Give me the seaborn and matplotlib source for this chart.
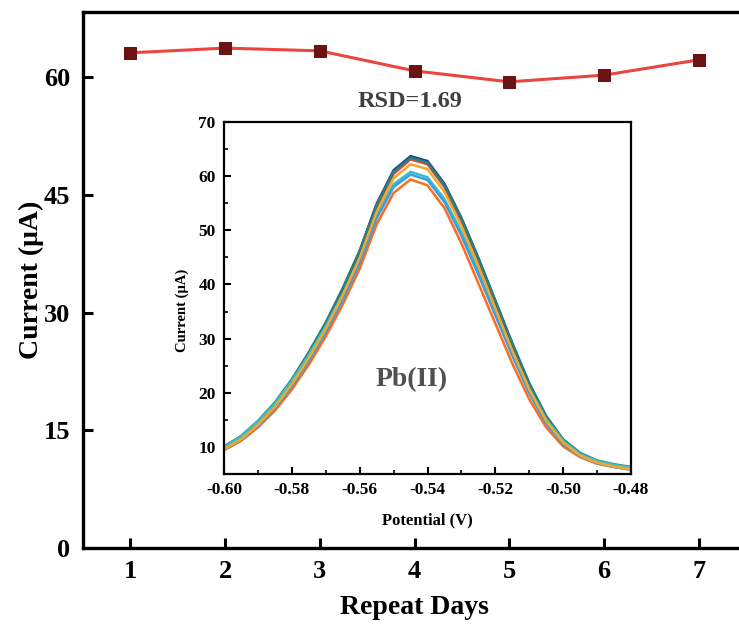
import numpy as np
import pandas as pd
import matplotlib
matplotlib.use("Agg")
import matplotlib.pyplot as plt
import seaborn as sns
from matplotlib.ticker import MultipleLocator

sns.set_style("ticks")
plt.rcParams['font.family'] = ['Liberation Serif', 'DejaVu Serif']
plt.rcParams['font.weight'] = 'bold'
plt.rcParams['text.color'] = 'black'
plt.rcParams['axes.labelcolor'] = 'black'
plt.rcParams['xtick.color'] = 'black'
plt.rcParams['ytick.color'] = 'black'
plt.rcParams['axes.edgecolor'] = 'black'

# ---- main data ----
days = [1, 2, 3, 4, 5, 6, 7]
current = [63.1, 63.7, 63.35, 60.8, 59.4, 60.25, 62.2]

# ---- inset data (DPV curves) ----
potential = [-0.600, -0.595, -0.590, -0.585, -0.580, -0.575, -0.570, -0.565,
             -0.560, -0.555, -0.550, -0.545, -0.540, -0.535, -0.530, -0.525,
             -0.520, -0.515, -0.510, -0.505, -0.500, -0.495, -0.490, -0.485, -0.480]
curve_day1 = [9.7, 11.6, 14.4, 17.7, 22.0, 26.9, 32.4, 38.7, 45.6, 54.2, 60.4, 63.1, 62.2,
              58.0, 51.7, 44.3, 36.4, 28.5, 21.2, 15.2, 11.0, 8.6, 7.2, 6.5, 6.0]
curve_day2 = [9.9, 11.8, 14.6, 18.0, 22.3, 27.3, 32.8, 39.2, 46.2, 54.9, 61.1, 63.7, 62.8,
              58.6, 52.3, 44.9, 37.0, 29.0, 21.6, 15.5, 11.2, 8.7, 7.3, 6.6, 6.1]
curve_day3 = [10.1, 12.0, 14.8, 18.2, 22.5, 27.5, 33.0, 39.3, 46.2, 54.7, 60.8, 63.4, 62.5,
              58.3, 52.1, 44.8, 37.0, 29.2, 21.8, 15.7, 11.4, 8.9, 7.5, 6.8, 6.3]
curve_day4 = [10.0, 11.9, 14.7, 18.0, 22.2, 27.0, 32.3, 38.2, 44.8, 52.9, 58.5, 60.8, 59.8,
              55.8, 49.7, 42.6, 35.2, 27.7, 20.8, 15.1, 11.1, 8.7, 7.4, 6.7, 6.2]
curve_day5 = [9.4, 11.1, 13.6, 16.7, 20.6, 25.2, 30.4, 36.3, 42.9, 51.1, 56.9, 59.4, 58.3,
              54.1, 47.6, 40.2, 32.8, 25.4, 18.8, 13.6, 10.1, 8.1, 6.9, 6.3, 5.8]
curve_day6 = [9.5, 11.3, 13.9, 17.1, 21.2, 25.9, 31.2, 37.2, 43.9, 52.2, 58.0, 60.3, 59.3,
              55.2, 49.0, 41.8, 34.3, 26.8, 19.9, 14.3, 10.5, 8.3, 7.0, 6.3, 5.8]
curve_day7 = [9.6, 11.4, 14.1, 17.4, 21.6, 26.4, 31.8, 38.0, 44.9, 53.4, 59.6, 62.2, 61.3,
              57.1, 50.8, 43.4, 35.6, 27.8, 20.6, 14.8, 10.8, 8.4, 7.1, 6.4, 5.9]
curve_labels = ["Day 1", "Day 2", "Day 3", "Day 4", "Day 5", "Day 6", "Day 7"]
curve_colors = ["#e8463e", "#24457a", "#2a7f80", "#3bbfc4", "#ff6a1e", "#3a9fdc", "#f8a62a"]

curves = [curve_day1, curve_day2, curve_day3, curve_day4, curve_day5, curve_day6, curve_day7]
rows = []
for lab, c in zip(curve_labels, curves):
    for v, i in zip(potential, c):
        rows.append((lab, v, i))
df_in = pd.DataFrame(rows, columns=["day", "potential", "current"])
df_main = pd.DataFrame({"day": days, "current": current})

fig = plt.figure(figsize=(7.39, 6.28), dpi=100)
ax = fig.add_axes([0.1123, 0.1274, 0.8972, 0.8535])

sns.lineplot(data=df_main, x="day", y="current", ax=ax, color="#e8463e",
             linewidth=2.2, marker="s", markersize=8.5, markerfacecolor="#6b1212",
             markeredgecolor="#6b1212", zorder=3)
ax.set_xlim(0.5, 7.5)
ax.set_ylim(0, 68.3)
ax.set_xticks(days)
ax.set_yticks([0, 15, 30, 45, 60])
ax.set_xlabel("Repeat Days", fontsize=20, fontweight="bold", labelpad=8)
ax.set_ylabel("Current (μA)", fontsize=20, fontweight="bold", labelpad=0)
ax.tick_params(axis="both", direction="in", length=7, width=2.2, labelsize=19,
               top=False, right=False, pad=9)
for lbl in ax.get_xticklabels() + ax.get_yticklabels():
    lbl.set_fontweight("bold")
for s in ax.spines.values():
    s.set_linewidth(2.4)
    s.set_color("black")
    s.set_visible(True)
ax.text(3.95, 56.9, "RSD=1.69", fontsize=17.5, fontweight="bold", color="#404040",
        ha="center", va="center")

# ---- inset ----
axi = fig.add_axes([0.3031, 0.2452, 0.5508, 0.5605])
sns.lineplot(data=df_in, x="potential", y="current", hue="day", palette=curve_colors,
             hue_order=curve_labels, ax=axi, linewidth=1.8, legend=False)
axi.set_xlim(-0.60, -0.48)
axi.set_ylim(5, 70)
axi.set_xticks([-0.60, -0.58, -0.56, -0.54, -0.52, -0.50, -0.48])
axi.set_xticklabels(["-0.60", "-0.58", "-0.56", "-0.54", "-0.52", "-0.50", "-0.48"])
axi.set_yticks([10, 20, 30, 40, 50, 60, 70])
axi.xaxis.set_minor_locator(MultipleLocator(0.01))
axi.yaxis.set_minor_locator(MultipleLocator(5))
axi.tick_params(axis="both", which="major", direction="in", length=5, width=1.5,
                labelsize=12.5, top=False, right=False, pad=6)
axi.tick_params(axis="both", which="minor", direction="in", length=3, width=1.2,
                top=False, right=False)
for lbl in axi.get_xticklabels() + axi.get_yticklabels():
    lbl.set_fontweight("bold")
for s in axi.spines.values():
    s.set_linewidth(1.6)
    s.set_color("black")
    s.set_visible(True)
axi.set_xlabel("Potential (V)", fontsize=12, fontweight="bold", labelpad=10)
axi.set_ylabel("Current (μA)", fontsize=10.5, fontweight="bold")
axi.yaxis.set_label_coords(-0.085, 0.465)
axi.text(-0.5448, 22.5, "Pb(II)", fontsize=20, fontweight="bold", color="#505050",
         ha="center", va="center")

fig.savefig("out.png", dpi=100, facecolor="white")
